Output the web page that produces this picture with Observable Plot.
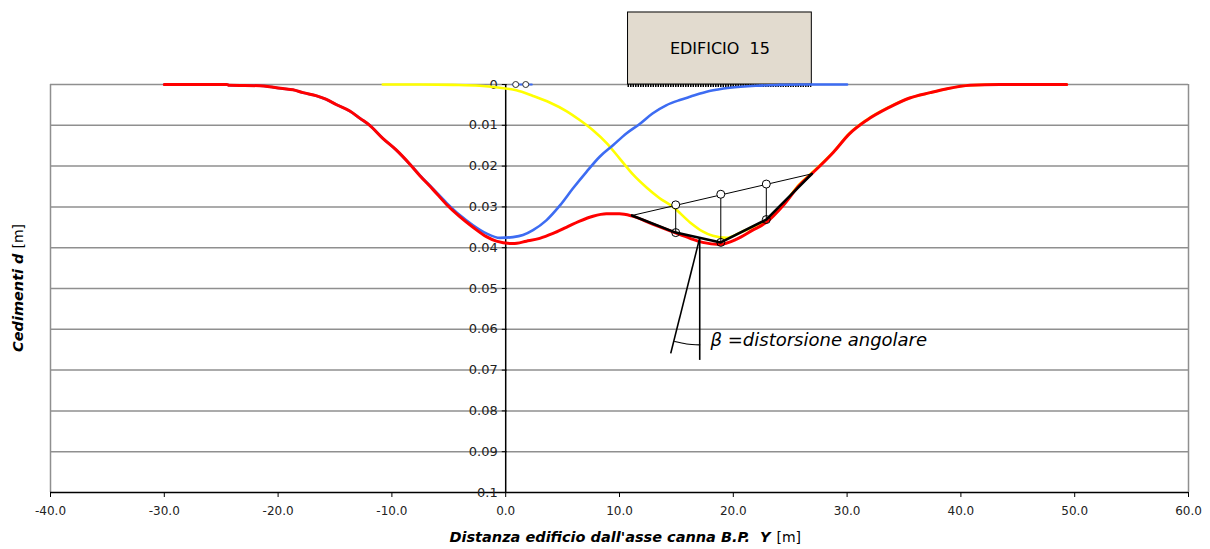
<!DOCTYPE html>
<html>
<head>
<meta charset="utf-8">
<script src="https://cdn.jsdelivr.net/npm/d3@7"></script>
<script src="https://cdn.jsdelivr.net/npm/@observablehq/plot@0.6"></script>
<style>
  html, body { margin: 0; padding: 0; background: #ffffff; }
  #chart { width: 1210px; height: 549px; }
</style>
</head>
<body>
<div id="chart"></div>
<script>
// ---- Data ----
const xTicks = [-40, -30, -20, -10, 0, 10, 20, 30, 40, 50, 60];
const yTicks = [0, 0.01, 0.02, 0.03, 0.04, 0.05, 0.06, 0.07, 0.08, 0.09, 0.1];
const yTickLabels = ["0", "0.01", "0.02", "0.03", "0.04", "0.05", "0.06", "0.07", "0.08", "0.09", "0.1"];

// Total settlement (red)
const redX = [-30.0, -27.0, -24.5, -24.3, -21.6, -20.4, -19.6, -18.7, -17.8, -16.6, -15.8, -14.9, -13.7, -12.8, -11.95, -10.8, -9.6, -8.4, -7.56, -6.4, -5.2, -4.04, -2.87, -1.7, -0.82, 0.64, 1.82, 2.99, 4.16, 5.33, 6.5, 7.67, 8.85, 10.0, 11.05, 12.9, 14.85, 16.2, 17.3, 18.8, 20.3, 21.7, 22.9, 24.4, 25.8, 27.0, 28.8, 30.2, 31.7, 33.7, 35.5, 37.3, 38.7, 40.8, 43.4, 49.3];
const redY = [0, 0, 0, 0.0002, 0.0003, 0.0007, 0.0010, 0.0013, 0.0020, 0.0028, 0.0036, 0.0049, 0.0065, 0.0083, 0.0100, 0.0132, 0.0161, 0.0196, 0.0223, 0.0257, 0.0294, 0.0324, 0.0350, 0.0373, 0.0384, 0.0390, 0.0384, 0.0377, 0.0365, 0.0350, 0.0335, 0.0323, 0.0317, 0.0317, 0.0322, 0.0342, 0.0363, 0.0377, 0.0387, 0.0392, 0.0379, 0.0357, 0.0338, 0.0296, 0.0247, 0.0216, 0.0166, 0.0121, 0.0088, 0.0056, 0.0033, 0.0020, 0.0011, 0.0002, 0, 0];

// First tunnel trough (blue)
const blueX = [-30.0, -27.0, -24.5, -24.3, -21.6, -20.4, -19.6, -18.7, -17.8, -16.6, -15.8, -14.9, -13.7, -12.8, -11.95, -10.8, -9.6, -8.4, -7.56, -6.4, -5.2, -4.04, -2.87, -1.7, -0.5, 0.64, 1.52, 2.4, 3.57, 4.75, 5.9, 7.1, 8.26, 9.43, 10.6, 11.8, 12.9, 14.1, 15.3, 16.2, 17.9, 19.7, 22.0, 24.0, 26.0, 30.0];
const blueY = [0, 0, 0, 0.0002, 0.0003, 0.0007, 0.0010, 0.0013, 0.0020, 0.0028, 0.0036, 0.0049, 0.0065, 0.0083, 0.0100, 0.0132, 0.0161, 0.0196, 0.0222, 0.0255, 0.0290, 0.0320, 0.0345, 0.0365, 0.0376, 0.0374, 0.0369, 0.0357, 0.0333, 0.0297, 0.0255, 0.0214, 0.0177, 0.0149, 0.0120, 0.0096, 0.0071, 0.0051, 0.0038, 0.0030, 0.0016, 0.0008, 0.0003, 0.0001, 0, 0];

// Second tunnel trough (yellow)
const yellowX = [-10.8, -7.5, -4.6, -2.3, -0.5, 0.94, 2.4, 3.87, 5.33, 6.5, 7.67, 8.85, 10.0, 11.2, 12.4, 13.5, 14.7, 16.2, 17.3, 18.2, 19.4, 20.6, 22.0, 23.2, 24.4, 25.8, 27.0, 28.8, 30.2, 31.7, 33.7, 35.5, 37.3, 38.7, 40.8, 43.4, 49.3];
const yellowY = [0, 0, 0.0001, 0.0003, 0.0008, 0.0014, 0.0028, 0.0044, 0.0065, 0.0087, 0.0112, 0.0143, 0.0181, 0.0221, 0.0253, 0.0278, 0.0300, 0.0338, 0.0360, 0.0371, 0.0376, 0.0363, 0.0345, 0.0328, 0.0294, 0.0245, 0.0214, 0.0165, 0.0120, 0.0087, 0.0055, 0.0033, 0.0020, 0.0011, 0.0002, 0, 0];

// Tunnel markers at top
const markerLineX = [0.6, 2.3];
const markerX = [0.88, 1.76];

// Building
const buildingX = [10.75, 26.9];
const buildingLabel = "EDIFICIO\u00a0\u00a015";

// Angular distortion construction
const chordX = [11.1, 26.9];
const chordY = [0.0321, 0.0219];
const polyX = [11.1, 14.94, 18.9, 22.9, 26.9];
const polyY = [0.0321, 0.0363, 0.0387, 0.0331, 0.0219];
const upperX = [14.94, 18.9, 22.9];
const upperY = [0.0295, 0.0269, 0.0244];
const lowerY = [0.0363, 0.0387, 0.0331];
const betaApexX = 17.05, betaApexY = 0.0376;
const betaVertEndY = 0.0675;
const betaSlantEnd = [14.5, 0.0659];
const arcX = [14.85, 15.9, 17.05];
const arcY = [0.0630, 0.0636, 0.0638];
const betaLabel = "\u03b2\u00a0=distorsione angolare";
const betaLabelPos = [18.0, 0.0627];

const xTitle = "Distanza edificio dall'asse canna B.P.\u00a0\u00a0Y";
const yTitle = "Cedimenti d";
const unitLabel = "[m]";

// ---- Build tables ----
const zip = (xs, ys) => xs.map((x, i) => ({x, y: ys[i]}));
const red = zip(redX, redY);
const blue = zip(blueX, blueY);
const yellow = zip(yellowX, yellowY);
const poly = zip(polyX, polyY);
const chord = zip(chordX, chordY);
const uppers = zip(upperX, upperY);
const lowers = zip(upperX, lowerY);
const connectors = upperX.map((x, i) => ({x, y1: upperY[i], y2: lowerY[i]}));
const arc = zip(arcX, arcY);

const font = "'DejaVu Sans', sans-serif";
const buildingTop = -0.01765;

const chart = Plot.plot({
  width: 1210,
  height: 549,
  marginLeft: 50,
  marginRight: 22,
  marginTop: 84,
  marginBottom: 57,
  x: {domain: [-40, 60], axis: null},
  y: {domain: [0, 0.1], reverse: true, axis: null},
  style: {fontFamily: font, background: "#ffffff", overflow: "visible"},
  marks: [
    // grid & frame
    Plot.ruleY(yTicks.slice(0, -1), {stroke: "#8f8f8f", strokeWidth: 1.5}),
    Plot.ruleX([-40, 60], {stroke: "#8f8f8f", strokeWidth: 1.5}),
    Plot.ruleY([0.1], {stroke: "#000000", strokeWidth: 1.5}),
    Plot.axisX({ticks: xTicks, tickFormat: d => d.toFixed(1), tickSize: 5, tickPadding: 9, fontSize: 12, label: null, stroke: "#000", color: "#222"}),
    // y axis at x = 0
    Plot.ruleX([0], {stroke: "#000000", strokeWidth: 1.5}),
    Plot.ruleY(yTicks, {x1: -0.3, x2: 0.12, stroke: "#000000", strokeWidth: 1}),
    Plot.text(yTicks, {x: 0, y: d => d, text: (d, i) => yTickLabels[i], textAnchor: "end", dx: -8, fontSize: 13, fill: "#222"}),
    // building
    Plot.rect([buildingX], {x1: d => d[0], x2: d => d[1], y1: 0, y2: buildingTop, fill: "#e2dbcf", stroke: "#000", strokeWidth: 1}),
    Plot.ruleY([0], {x1: buildingX[0], x2: buildingX[1], stroke: "#000", strokeWidth: 3, strokeDasharray: "1.5,1", dy: 1}),
    Plot.text([buildingLabel], {x: (buildingX[0] + buildingX[1]) / 2, y: buildingTop / 2, fontSize: 16, fill: "#000"}),
    // curves
    Plot.line(yellow, {x: "x", y: "y", stroke: "#ffff00", strokeWidth: 2.6, curve: "monotone-x"}),
    Plot.line(blue, {x: "x", y: "y", stroke: "#3d6cf2", strokeWidth: 2.6, curve: "monotone-x"}),
    Plot.line(red, {x: "x", y: "y", stroke: "#ff0000", strokeWidth: 3, curve: "monotone-x"}),
    // tunnel markers
    Plot.line(zip(markerLineX, [0, 0]), {x: "x", y: "y", stroke: "#3d6cf2", strokeWidth: 2}),
    Plot.dot(markerX, {x: d => d, y: 0, r: 3, stroke: "#333", fill: "white", strokeWidth: 1}),
    // angular distortion construction
    Plot.line(chord, {x: "x", y: "y", stroke: "#000", strokeWidth: 1}),
    Plot.ruleX(connectors, {x: "x", y1: "y1", y2: "y2", stroke: "#000", strokeWidth: 1}),
    Plot.line(poly, {x: "x", y: "y", stroke: "#000", strokeWidth: 2.6}),
    Plot.dot(uppers, {x: "x", y: "y", r: 4, stroke: "#000", fill: "white", strokeWidth: 1}),
    Plot.dot(lowers, {x: "x", y: "y", r: 4, stroke: "#000", fill: "none", strokeWidth: 1}),
    Plot.link([{x1: betaApexX, y1: betaApexY, x2: betaApexX, y2: betaVertEndY}], {x1: "x1", y1: "y1", x2: "x2", y2: "y2", stroke: "#000", strokeWidth: 1.6}),
    Plot.link([{x1: betaApexX, y1: betaApexY, x2: betaSlantEnd[0], y2: betaSlantEnd[1]}], {x1: "x1", y1: "y1", x2: "x2", y2: "y2", stroke: "#000", strokeWidth: 1.6}),
    Plot.line(arc, {x: "x", y: "y", stroke: "#000", strokeWidth: 1.2, curve: "natural"}),
    Plot.text([betaLabel], {x: betaLabelPos[0], y: betaLabelPos[1], textAnchor: "start", fontSize: 18, fontStyle: "italic", fill: "#000"}),
    // titles
    Plot.text([xTitle], {frameAnchor: "bottom", dy: 49, dx: 151, textAnchor: "end", fontSize: 14.5, fontWeight: "bold", fontStyle: "italic", fill: "#000"}),
    Plot.text([unitLabel], {frameAnchor: "bottom", dy: 49, dx: 157, textAnchor: "start", fontSize: 14, fill: "#000"}),
    Plot.text([yTitle], {frameAnchor: "left", rotate: -90, dx: -32, dy: -35, textAnchor: "end", fontSize: 14.5, fontWeight: "bold", fontStyle: "italic", fill: "#000"}),
    Plot.text([unitLabel], {frameAnchor: "left", rotate: -90, dx: -32, dy: -40, textAnchor: "start", fontSize: 14, fill: "#000"})
  ]
});
document.getElementById("chart").appendChild(chart);
</script>
</body>
</html>
